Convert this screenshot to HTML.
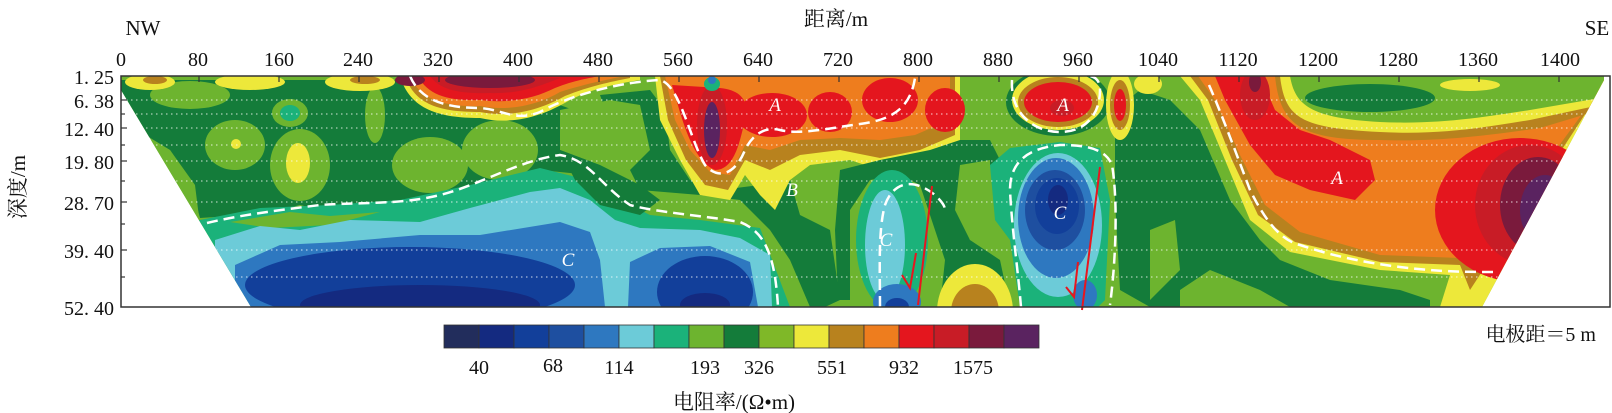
<!DOCTYPE html>
<html><head><meta charset="utf-8"><style>
html,body{margin:0;padding:0;background:#fff;}
svg{display:block;}
text{font-family:"Liberation Serif","Noto Serif CJK SC",serif;fill:#111;}
</style></head><body>
<svg width="1612" height="413" viewBox="0 0 1612 413" xmlns="http://www.w3.org/2000/svg">
<defs>
<clipPath id="c"><polygon points="121,76 1604,76 1604,80 1482,307 251,307 121,90"/></clipPath>
</defs>
<g clip-path="url(#c)" stroke-linejoin="round">
<rect x="100" y="70" width="1520" height="240" fill="#6db42f"/>
<!-- left upper dark green -->
<polygon fill="#147c3a" points="121,80 420,80 440,100 500,118 560,105 600,120 590,175 540,170 480,195 420,200 380,205 330,212 300,205 270,212 230,216 200,218 190,180 170,150 121,120"/>
<polygon fill="#6db42f" points="121,125 170,150 195,185 200,225 190,230 150,180"/>
<ellipse cx="235" cy="145" rx="30" ry="25" fill="#6db42f"/>
<ellipse cx="236" cy="144" rx="5" ry="5" fill="#ede83a"/>
<ellipse cx="300" cy="165" rx="30" ry="36" fill="#6db42f"/>
<ellipse cx="298" cy="163" rx="12" ry="20" fill="#ede83a"/>
<ellipse cx="290" cy="113" rx="18" ry="14" fill="#6db42f"/>
<ellipse cx="290" cy="113" rx="10" ry="8" fill="#1bb27a"/>
<ellipse cx="430" cy="165" rx="38" ry="28" fill="#6db42f"/>
<ellipse cx="500" cy="150" rx="38" ry="30" fill="#6db42f"/>
<ellipse cx="375" cy="115" rx="10" ry="28" fill="#6db42f"/>
<ellipse cx="190" cy="95" rx="40" ry="14" fill="#6db42f"/>
<ellipse cx="250" cy="82" rx="35" ry="8" fill="#ede83a"/>
<ellipse cx="150" cy="82" rx="25" ry="8" fill="#ede83a"/>
<ellipse cx="155" cy="80" rx="12" ry="4" fill="#b8821e"/>
<ellipse cx="360" cy="82" rx="35" ry="9" fill="#ede83a"/>
<ellipse cx="365" cy="80" rx="15" ry="4" fill="#b8821e"/>
<!-- lower left blue zone -->
<polygon fill="#1bb27a" points="190,222 260,208 330,205 400,200 470,185 540,168 580,178 620,200 650,215 700,220 760,228 790,307 190,307"/>
<polygon fill="#6db42f" points="230,222 290,212 330,216 380,212 330,225 270,228"/>
<polygon fill="#6ccbd8" points="215,240 260,226 300,230 350,220 420,222 470,208 530,192 560,188 590,200 615,220 640,228 700,230 740,238 770,255 772,307 215,307"/>
<polygon fill="#2e78c0" points="235,265 280,245 340,242 420,235 480,235 560,222 590,232 600,260 605,307 235,307"/>
<polygon fill="#2e78c0" points="630,262 660,248 710,246 750,262 758,307 628,307"/>
<ellipse cx="410" cy="285" rx="165" ry="38" fill="#123f9a"/>
<ellipse cx="705" cy="292" rx="48" ry="36" fill="#123f9a"/>
<ellipse cx="420" cy="305" rx="120" ry="20" fill="#142a80"/>
<ellipse cx="705" cy="305" rx="25" ry="12" fill="#142a80"/>
<!-- top red zone left -->
<path fill="#ede83a" d="M400,76 C410,110 440,118 480,118 C510,125 540,118 570,100 C590,90 610,85 640,80 L640,76 Z"/>
<path fill="#b8821e" d="M405,76 C415,105 440,112 480,112 C510,118 540,110 565,96 C590,86 610,82 630,78 L630,76 Z"/>
<path fill="#ee7d1e" d="M410,76 C420,100 445,107 480,106 C510,112 540,104 560,92 C585,84 605,80 620,77 Z"/>
<path fill="#e4161e" d="M418,76 C428,96 450,101 480,100 C510,104 535,98 555,88 C575,80 590,78 600,76 Z"/>
<path fill="#c81c26" d="M430,76 C440,90 460,94 490,93 C520,94 540,86 560,78 Z"/>
<ellipse cx="490" cy="80" rx="45" ry="8" fill="#7a1a3c"/>
<ellipse cx="410" cy="80" rx="15" ry="6" fill="#7a1a3c"/>
<!-- middle upper -->
<polygon fill="#147c3a" points="600,95 650,90 665,110 670,150 690,180 720,190 760,185 790,180 800,215 830,230 840,300 825,307 810,307 790,260 770,230 740,200 700,195 640,190 620,150"/>
<polygon fill="#6db42f" points="560,110 610,100 640,105 650,150 630,170 600,165 560,150"/>
<polygon fill="#147c3a" points="560,150 600,165 640,185 660,200 640,215 600,205 575,180"/>
<!-- orange/red band 660-920 -->
<path fill="#ede83a" d="M655,76 L660,120 680,160 700,195 730,200 745,175 760,195 775,210 790,180 810,165 850,160 880,170 920,160 960,150 960,76 Z"/>
<path fill="#b8821e" d="M660,76 L668,120 686,160 705,185 728,190 745,160 770,170 800,155 840,150 880,158 920,150 955,135 955,76 Z"/>
<path fill="#ee7d1e" d="M665,76 L675,120 690,150 710,172 730,175 745,145 770,150 800,140 840,138 880,140 915,135 950,120 950,76 Z"/>
<path fill="#e4161e" d="M672,85 C680,110 690,160 715,170 C735,170 740,140 745,120 C750,100 740,90 720,88 Z"/>
<ellipse cx="772" cy="115" rx="35" ry="22" fill="#e4161e"/>
<ellipse cx="830" cy="112" rx="22" ry="20" fill="#e4161e"/>
<ellipse cx="890" cy="100" rx="28" ry="22" fill="#e4161e"/>
<ellipse cx="945" cy="110" rx="20" ry="22" fill="#e4161e"/>
<ellipse cx="712" cy="125" rx="15" ry="40" fill="#c81c26"/>
<ellipse cx="712" cy="130" rx="8" ry="28" fill="#5a2360"/>
<ellipse cx="712" cy="84" rx="8" ry="7" fill="#1bb27a"/>
<ellipse cx="712" cy="80" rx="4" ry="4" fill="#2e78c0"/>
<!-- middle lower region 780-1000 -->
<polygon fill="#147c3a" points="840,170 880,160 930,150 960,140 990,140 1000,160 980,170 960,210 970,240 1000,260 1010,307 940,307 945,260 935,230 920,185 900,175 870,180 850,210 850,300 838,300 835,230"/>
<polygon fill="#6db42f" points="955,210 960,165 990,160 990,245 970,240"/>
<ellipse cx="892" cy="240" rx="36" ry="70" fill="#1bb27a"/>
<ellipse cx="885" cy="245" rx="20" ry="55" fill="#6ccbd8"/>
<ellipse cx="897" cy="302" rx="24" ry="18" fill="#2e78c0"/>
<ellipse cx="897" cy="307" rx="12" ry="9" fill="#123f9a"/>
<ellipse cx="975" cy="312" rx="38" ry="48" fill="#ede83a"/>
<ellipse cx="975" cy="312" rx="24" ry="28" fill="#b8821e"/>
<!-- Second A -->
<ellipse cx="1058" cy="102" rx="52" ry="34" fill="#147c3a"/>
<ellipse cx="1058" cy="100" rx="46" ry="30" fill="#ede83a"/>
<ellipse cx="1058" cy="102" rx="40" ry="25" fill="#b8821e"/>
<ellipse cx="1058" cy="102" rx="34" ry="20" fill="#e4161e"/>
<ellipse cx="1062" cy="108" rx="12" ry="8" fill="#c81c26"/>
<!-- C blue oval -->
<polygon fill="#1bb27a" points="990,165 1010,148 1060,142 1100,148 1110,200 1105,300 1098,307 1020,307 1010,240 995,220"/>
<ellipse cx="1058" cy="225" rx="44" ry="72" fill="#6ccbd8"/>
<ellipse cx="1056" cy="218" rx="38" ry="60" fill="#2e78c0"/>
<ellipse cx="1055" cy="210" rx="30" ry="40" fill="#1e4fa0"/>
<ellipse cx="1057" cy="206" rx="22" ry="28" fill="#123f9a"/>
<ellipse cx="1058" cy="200" rx="10" ry="15" fill="#142a80"/>
<ellipse cx="1085" cy="295" rx="12" ry="15" fill="#2e78c0"/>
<!-- 1100-1230 region -->
<polygon fill="#147c3a" points="1115,110 1140,90 1170,100 1200,130 1230,200 1260,240 1280,260 1330,280 1400,290 1430,300 1430,307 1150,307 1120,290 1115,200"/>
<polygon fill="#6db42f" points="1150,230 1175,220 1180,270 1150,300"/>
<polygon fill="#6db42f" points="1180,290 1210,270 1260,290 1290,307 1180,307"/>
<ellipse cx="1120" cy="105" rx="14" ry="35" fill="#ede83a"/>
<ellipse cx="1120" cy="105" rx="10" ry="25" fill="#b8821e"/>
<ellipse cx="1120" cy="105" rx="6" ry="16" fill="#e4161e"/>
<ellipse cx="1148" cy="84" rx="14" ry="10" fill="#ede83a"/>
<!-- right region -->
<path fill="#ede83a" d="M1180,76 L1200,100 1225,160 1250,220 1290,252 1380,270 1450,275 1440,307 1490,307 1610,76 Z"/>
<path fill="#b8821e" d="M1190,76 L1208,100 1232,160 1258,215 1295,242 1380,262 1460,265 1470,290 1610,76 Z"/>
<path fill="#ee7d1e" d="M1198,76 L1215,100 1240,155 1265,205 1300,232 1380,255 1460,258 1490,240 1610,76 Z"/>
<path fill="#e4161e" d="M1215,76 L1225,100 1250,145 1275,175 1310,190 1355,200 1375,180 1370,160 1330,140 1300,130 1275,110 1260,76 Z"/>
<ellipse cx="1255" cy="95" rx="15" ry="25" fill="#c81c26"/>
<ellipse cx="1255" cy="82" rx="6" ry="10" fill="#7a1a3c"/>
<!-- top green band right -->
<path fill="#b8821e" d="M1275,76 C1280,125 1300,140 1380,140 C1440,142 1490,135 1540,128 L1600,110 1610,76 Z"/>
<path fill="#ede83a" d="M1280,76 C1285,118 1300,128 1380,132 C1440,135 1480,128 1530,120 L1600,105 1610,76 Z"/>
<path fill="#6db42f" d="M1290,76 C1295,105 1310,118 1380,122 C1440,125 1490,116 1530,110 L1600,98 1608,76 Z"/>
<ellipse cx="1370" cy="98" rx="65" ry="14" fill="#147c3a"/>
<ellipse cx="1470" cy="85" rx="30" ry="6" fill="#ede83a"/>
<!-- right red/purple -->
<ellipse cx="1520" cy="210" rx="85" ry="72" fill="#e4161e"/>
<ellipse cx="1530" cy="205" rx="55" ry="60" fill="#c81c26"/>
<ellipse cx="1538" cy="205" rx="38" ry="48" fill="#7a1a3c"/>
<ellipse cx="1545" cy="210" rx="25" ry="35" fill="#5a2360"/>
<!-- dotted grid -->
<g stroke="#fff" stroke-width="1" stroke-dasharray="1.5 3.5" opacity="0.8">
<line x1="121" x2="1612" y1="100" y2="100"/><line x1="121" x2="1612" y1="114" y2="114"/>
<line x1="121" x2="1612" y1="128" y2="128"/><line x1="121" x2="1612" y1="145" y2="145"/>
<line x1="121" x2="1612" y1="161" y2="161"/><line x1="121" x2="1612" y1="181" y2="181"/>
<line x1="121" x2="1612" y1="202" y2="202"/><line x1="121" x2="1612" y1="250" y2="250"/>
<line x1="121" x2="1612" y1="277" y2="277"/>
</g>
</g>
<!-- dashed lines -->
<g fill="none" stroke="#fff" stroke-width="2.5" stroke-dasharray="11 6">
<path d="M410,76 C420,100 445,108 480,108 C505,110 515,122 540,112 C570,95 620,82 660,80 C680,85 690,140 705,165 C718,180 735,175 745,150 C752,135 765,126 780,130 C800,135 830,128 860,124 C890,120 910,110 915,78"/>
<path d="M1012,80 C1010,115 1035,132 1060,132 C1085,132 1100,115 1100,90 C1100,80 1095,77 1090,76"/>
<path d="M207,223 C240,215 280,210 320,205 C360,202 400,205 440,195 C480,185 520,160 560,155 C590,160 600,185 630,205 C660,213 700,215 740,222 C765,232 775,255 778,307"/>
<path d="M880,307 C880,270 878,230 885,205 C892,185 910,175 935,195 C940,200 945,205 945,210"/>
<path d="M1021,307 C1018,270 1012,230 1010,190 C1010,160 1030,148 1060,145 C1085,145 1105,148 1112,165 C1118,200 1116,260 1110,305"/>
<path d="M1209,85 C1220,110 1235,150 1250,190 C1265,220 1280,240 1300,245 C1330,255 1360,262 1400,267 C1440,272 1470,272 1495,272"/>
</g>
<!-- red fault lines -->
<g stroke="#e8161e" stroke-width="2" fill="none">
<line x1="932" y1="186" x2="918" y2="305"/>
<polyline points="902,275 910,288 916,253"/>
<line x1="1100" y1="167" x2="1082" y2="310"/>
<polyline points="1066,287 1074,297 1078,262"/>
</g>
<!-- region labels -->
<g font-style="italic" font-size="19">
<text x="775" y="111" text-anchor="middle" style="fill:#fff">A</text>
<text x="1063" y="111" text-anchor="middle" style="fill:#fff">A</text>
<text x="1337" y="184" text-anchor="middle" style="fill:#fff">A</text>
<text x="792" y="196" text-anchor="middle" style="fill:#fff">B</text>
<text x="568" y="266" text-anchor="middle" style="fill:#fff">C</text>
<text x="886" y="246" text-anchor="middle" style="fill:#fff">C</text>
<text x="1060" y="219" text-anchor="middle" style="fill:#fff">C</text>
</g>
<!-- frame -->
<rect x="121" y="76" width="1489" height="231" fill="none" stroke="#333" stroke-width="1.5"/>
<g stroke="#333" stroke-width="1.2">
<line x1="199" y1="76" x2="199" y2="82"/><line x1="279" y1="76" x2="279" y2="82"/><line x1="359" y1="76" x2="359" y2="82"/>
<line x1="439" y1="76" x2="439" y2="82"/><line x1="519" y1="76" x2="519" y2="82"/><line x1="599" y1="76" x2="599" y2="82"/>
<line x1="679" y1="76" x2="679" y2="82"/><line x1="759" y1="76" x2="759" y2="82"/><line x1="839" y1="76" x2="839" y2="82"/>
<line x1="919" y1="76" x2="919" y2="82"/><line x1="999" y1="76" x2="999" y2="82"/><line x1="1079" y1="76" x2="1079" y2="82"/>
<line x1="1159" y1="76" x2="1159" y2="82"/><line x1="1239" y1="76" x2="1239" y2="82"/><line x1="1319" y1="76" x2="1319" y2="82"/>
<line x1="1399" y1="76" x2="1399" y2="82"/><line x1="1479" y1="76" x2="1479" y2="82"/><line x1="1559" y1="76" x2="1559" y2="82"/>
<line x1="121" y1="100" x2="127" y2="100"/><line x1="121" y1="114" x2="125" y2="114"/><line x1="121" y1="128" x2="127" y2="128"/>
<line x1="121" y1="145" x2="125" y2="145"/><line x1="121" y1="161" x2="127" y2="161"/><line x1="121" y1="181" x2="125" y2="181"/>
<line x1="121" y1="202" x2="127" y2="202"/><line x1="121" y1="224" x2="125" y2="224"/><line x1="121" y1="250" x2="127" y2="250"/>
<line x1="121" y1="277" x2="125" y2="277"/>
</g>
<!-- axis labels -->
<g font-size="20" text-anchor="middle">
<text x="121" y="66">0</text><text x="198" y="66">80</text><text x="279" y="66">160</text><text x="358" y="66">240</text>
<text x="438" y="66">320</text><text x="518" y="66">400</text><text x="598" y="66">480</text><text x="678" y="66">560</text>
<text x="758" y="66">640</text><text x="838" y="66">720</text><text x="918" y="66">800</text><text x="998" y="66">880</text>
<text x="1078" y="66">960</text><text x="1158" y="66">1040</text><text x="1238" y="66">1120</text><text x="1318" y="66">1200</text>
<text x="1398" y="66">1280</text><text x="1478" y="66">1360</text><text x="1560" y="66">1400</text>
</g>
<g font-size="20" text-anchor="end">
<text x="114" y="84">1. 25</text><text x="114" y="108">6. 38</text><text x="114" y="136">12. 40</text>
<text x="114" y="169">19. 80</text><text x="114" y="210">28. 70</text><text x="114" y="258">39. 40</text><text x="114" y="315">52. 40</text>
</g>
<text x="143" y="35" font-size="21" text-anchor="middle">NW</text>
<text x="1597" y="35" font-size="21" text-anchor="middle">SE</text>
<text x="836" y="26" font-size="21" text-anchor="middle">距离/m</text>
<text transform="translate(25,187) rotate(-90)" font-size="21" text-anchor="middle">深度/m</text>
<text x="1596" y="341" font-size="20" text-anchor="end">电极距＝5 m</text>
<!-- colorbar -->
<g stroke="#333" stroke-width="0.8">
<rect x="444" y="325" width="35" height="23" fill="#222d5c"/>
<rect x="479" y="325" width="35" height="23" fill="#142a80"/>
<rect x="514" y="325" width="35" height="23" fill="#123f9a"/>
<rect x="549" y="325" width="35" height="23" fill="#1e4fa0"/>
<rect x="584" y="325" width="35" height="23" fill="#2e78c0"/>
<rect x="619" y="325" width="35" height="23" fill="#6ccbd8"/>
<rect x="654" y="325" width="35" height="23" fill="#1bb27a"/>
<rect x="689" y="325" width="35" height="23" fill="#6db42f"/>
<rect x="724" y="325" width="35" height="23" fill="#147c3a"/>
<rect x="759" y="325" width="35" height="23" fill="#7fb828"/>
<rect x="794" y="325" width="35" height="23" fill="#ede83a"/>
<rect x="829" y="325" width="35" height="23" fill="#b8821e"/>
<rect x="864" y="325" width="35" height="23" fill="#ee7d1e"/>
<rect x="899" y="325" width="35" height="23" fill="#e4161e"/>
<rect x="934" y="325" width="35" height="23" fill="#c81c26"/>
<rect x="969" y="325" width="35" height="23" fill="#7a1a3c"/>
<rect x="1004" y="325" width="35" height="23" fill="#5a2360"/>
</g>
<g font-size="20" text-anchor="middle">
<text x="479" y="374">40</text><text x="553" y="372">68</text><text x="619" y="374">114</text><text x="705" y="374">193</text>
<text x="759" y="374">326</text><text x="832" y="374">551</text><text x="904" y="374">932</text><text x="973" y="374">1575</text>
</g>
<text x="734" y="409" font-size="21" text-anchor="middle">电阻率/(Ω•m)</text>
</svg>
</body></html>
